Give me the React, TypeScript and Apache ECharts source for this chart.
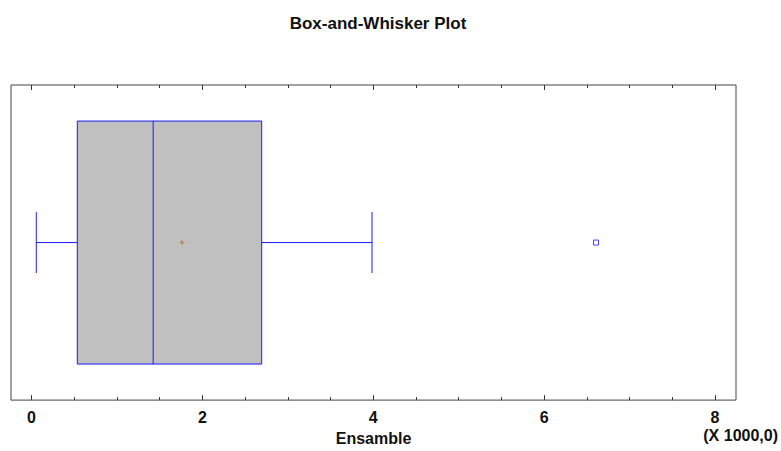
import React, { useEffect, useRef } from "react";
import * as echarts from "echarts";

// Five-number summary (raw values, axis shown in thousands)
const boxStats = [56, 536, 1424, 2694, 3985]; // lower whisker, Q1, median, Q3, upper whisker
const meanValue = [1761];
const outliers = [6607];
const majorTicks = [0, 2000, 4000, 6000, 8000];
const minorTicks = [500, 1000, 1500, 2500, 3000, 3500, 4500, 5000, 5500, 6500, 7000, 7500];
const axisMin = -240;
const axisMax = 8245;
const title = "Box-and-Whisker Plot";
const axisName = "Ensamble";
const scaleNote = "(X 1000,0)";

const FONT = "'Liberation Sans', Arial, sans-serif";
const BLUE = "#1a1aff";

export default function App() {
  const ref = useRef<HTMLDivElement>(null);
  useEffect(() => {
    if (!ref.current) return;
    const chart = echarts.init(ref.current, null, { renderer: "svg" });
    const baseAxis = {
      type: "value",
      min: axisMin,
      max: axisMax,
      splitLine: { show: false },
      axisLine: { show: false },
    };
    const tickAxis = (position: string, values: number[], len: number, labels: boolean) => ({
      ...baseAxis,
      position,
      axisTick: { show: true, inside: true, length: len, customValues: values, lineStyle: { color: "#333", width: 1 } },
      axisLabel: labels
        ? {
            show: true,
            customValues: majorTicks,
            formatter: (v: number) => String(v / 1000),
            fontFamily: FONT,
            fontWeight: "bold",
            fontSize: 16,
            color: "#111",
            margin: 9,
          }
        : { show: false },
    });
    const option = {
      animation: false,
      backgroundColor: "#ffffff",
      title: {
        text: title,
        left: 373,
        textAlign: "center",
        top: 10,
        textStyle: { fontFamily: FONT, fontWeight: "bold", fontSize: 17, color: "#111" },
      },
      grid: {
        left: 11,
        right: 45,
        top: 85,
        bottom: 46,
        show: true,
        borderColor: "#444",
        borderWidth: 1,
        backgroundColor: "transparent",
      },
      xAxis: [
        {
          ...tickAxis("bottom", majorTicks, 5, true),
          name: axisName,
          nameLocation: "middle",
          nameGap: 29,
          nameTextStyle: { fontFamily: FONT, fontWeight: "bold", fontSize: 16, color: "#111" },
        },
        tickAxis("bottom", minorTicks, 3, false),
        tickAxis("top", majorTicks, 5, false),
        tickAxis("top", minorTicks, 3, false),
      ],
      yAxis: { type: "value", min: 0, max: 1, show: false },
      graphic: [
        {
          type: "text",
          x: 778,
          y: 435,
          style: {
            text: scaleNote,
            align: "right",
            verticalAlign: "middle",
            font: `bold 16px ${FONT}`,
            fill: "#111",
          },
        },
      ],
      series: [
        {
          type: "custom",
          xAxisIndex: 0,
          data: [[...boxStats, 0.5]],
          encode: { x: [0, 1, 2, 3, 4], y: 5 },
          renderItem: (params: any, api: any) => {
            const yv = api.value(5);
            const p = (i: number) => api.coord([api.value(i), yv]);
            const lo = p(0), q1 = p(1), med = p(2), q3 = p(3), hi = p(4);
            const cy = lo[1];
            const half = 121.5;
            const cap = 30.5;
            const ls = { stroke: BLUE, lineWidth: 1 };
            return {
              type: "group",
              children: [
                { type: "rect", shape: { x: q1[0], y: cy - half, width: q3[0] - q1[0], height: 2 * half }, style: { fill: "#c0c0c0", stroke: BLUE, lineWidth: 1 } },
                { type: "line", shape: { x1: med[0], y1: cy - half, x2: med[0], y2: cy + half }, style: ls },
                { type: "line", shape: { x1: lo[0], y1: cy, x2: q1[0], y2: cy }, style: ls },
                { type: "line", shape: { x1: q3[0], y1: cy, x2: hi[0], y2: cy }, style: ls },
                { type: "line", shape: { x1: lo[0], y1: cy - cap, x2: lo[0], y2: cy + cap }, style: ls },
                { type: "line", shape: { x1: hi[0], y1: cy - cap, x2: hi[0], y2: cy + cap }, style: ls },
              ],
            };
          },
        },
        {
          type: "scatter",
          xAxisIndex: 0,
          data: meanValue.map((v) => [v, 0.5]),
          symbol: "path://M2,0H3V2H5V3H3V5H2V3H0V2H2Z",
          symbolSize: 5,
          itemStyle: { color: "#c0602a" },
          z: 5,
        },
        {
          type: "scatter",
          xAxisIndex: 0,
          data: outliers.map((v) => [v, 0.5]),
          symbol: "rect",
          symbolSize: 5,
          itemStyle: { color: "#ffffff", borderColor: BLUE, borderWidth: 1 },
          z: 5,
        },
      ],
    };
    chart.setOption(option as any);
    return () => chart.dispose();
  }, []);
  return <div ref={ref} style={{ width: 781, height: 451, position: "absolute", left: 0, top: 0 }} />;
}
